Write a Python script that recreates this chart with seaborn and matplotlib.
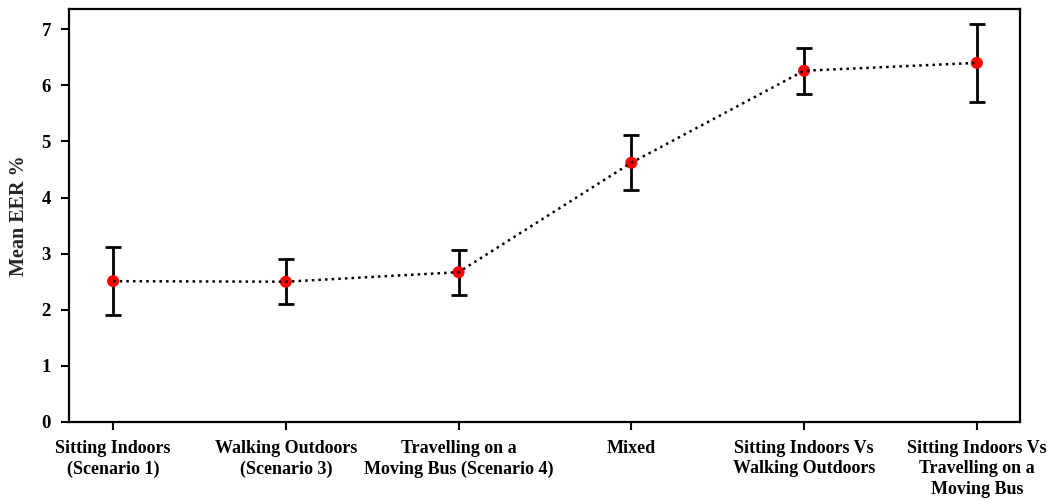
import numpy as np
import pandas as pd
import seaborn as sns
from matplotlib import pyplot as plt

scenarios = [
    'Sitting Indoors\n(Scenario 1)',
    'Walking Outdoors\n(Scenario 3)',
    'Travelling on a\nMoving Bus (Scenario 4)',
    'Mixed',
    'Sitting Indoors Vs\nWalking Outdoors',
    'Sitting Indoors Vs\nTravelling on a\nMoving Bus',
]
mean_eer = [2.51, 2.50, 2.67, 4.62, 6.26, 6.40]
eer_err = [0.61, 0.40, 0.40, 0.49, 0.41, 0.70]

sns.set_style('white')
plt.rcParams['font.family'] = ['Liberation Serif', 'DejaVu Serif']
plt.rcParams['font.weight'] = 'bold'

df = pd.DataFrame({'pos': np.arange(len(scenarios)), 'eer': mean_eer, 'err': eer_err})

fig = plt.figure(figsize=(10.51, 5.01), dpi=100)
ax = fig.add_axes([0.0657, 0.1577, 0.9048, 0.8243])

ax.errorbar(df.pos, df.eer, yerr=df.err, fmt='none', ecolor='black',
            elinewidth=2, capsize=5.5, capthick=2, zorder=2)
sns.scatterplot(data=df, x='pos', y='eer', color='red', s=75, edgecolor='none',
                zorder=3, ax=ax)
sns.lineplot(data=df, x='pos', y='eer', color='black', linestyle=':', linewidth=1.8,
             zorder=4, ax=ax)

ax.set_xlim(-0.255, 5.25)
ax.set_ylim(0, 7.36)
ax.set_xticks(df.pos)
ax.set_xticklabels(scenarios, fontsize=13, fontweight='bold', linespacing=1.25)
ax.set_yticks(range(8))
ax.set_yticklabels([str(i) for i in range(8)], fontsize=13.5, fontweight='bold')
ax.set_xlabel('')
ax.set_ylabel('Mean EER %', fontsize=14.5, fontweight='bold', labelpad=9)
ax.tick_params(axis='both', direction='out', length=6, width=1.5, colors='black',
               bottom=True, left=True, pad=7)
for s in ax.spines.values():
    s.set_linewidth(1.6)
    s.set_color('black')

fig.savefig('out.png', dpi=100)
